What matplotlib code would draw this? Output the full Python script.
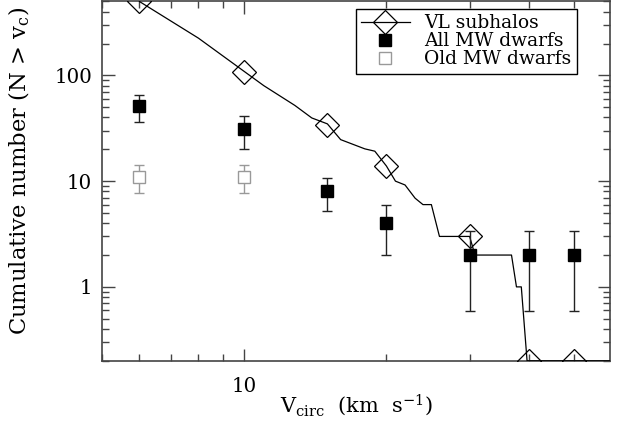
import matplotlib
matplotlib.use("Agg")
import matplotlib.pyplot as plt
from matplotlib.ticker import LogLocator, NullFormatter, FixedLocator, FixedFormatter

plt.rcParams['font.family'] = ['DejaVu Serif']
plt.rcParams['mathtext.fontset'] = 'dejavuserif'

# VL subhalos cumulative curve (traced)
vl_curve_x = [6.0, 8.0, 10.0, 11.0, 12.8, 13.9, 15.0, 16.0, 18.0, 18.9, 20.0, 20.9, 21.9,
              23.0, 23.9, 24.9, 25.9, 30.0, 30.8, 36.8, 37.7, 38.6, 39.7, 60.0]
vl_curve_y = [500, 225, 109, 80, 52, 39.6, 34.8, 24.7, 20.2, 19.2, 13.9, 10, 9.2,
              6.9, 6.0, 6.0, 3.0, 3.0, 2.0, 2.0, 1.0, 1.0, 0.2, 0.2]
# VL subhalos markers
vl_x = [6, 10, 15, 20, 30, 40, 50]
vl_y = [500, 108, 34, 13.8, 3.0, 0.2, 0.2]

# All MW dwarfs
all_x = [6, 10, 15, 20, 30, 40, 50]
all_y = [51, 31, 8, 4, 2, 2, 2]
all_lo = [36, 20.3, 5.2, 2.0, 0.59, 0.59, 0.59]
all_hi = [65, 41, 10.7, 6.0, 3.4, 3.4, 3.4]

# Old MW dwarfs
old_x = [6, 10]
old_y = [11, 11]
old_lo = [7.7, 7.7]
old_hi = [14.3, 14.3]

fig = plt.figure(figsize=(6.26, 4.29), dpi=100)
ax = fig.add_axes([0.163, 0.159, 0.811, 0.839])

ax.set_xscale('log')
ax.set_yscale('log')
ax.set_xlim(5.0, 59.4)
ax.set_ylim(0.2, 507)

ax.plot(vl_curve_x, vl_curve_y, color='black', lw=0.9, zorder=3)
ax.plot(vl_x, vl_y, linestyle='none', marker='D', markersize=12, markerfacecolor='none',
        markeredgecolor='black', markeredgewidth=0.9, zorder=4)

all_err = [[y - l for y, l in zip(all_y, all_lo)], [h - y for y, h in zip(all_y, all_hi)]]
ax.errorbar(all_x, all_y, yerr=all_err, fmt='s', color='black', ecolor='#222222',
            markersize=8.5, elinewidth=1.0, capsize=3.3, capthick=1.0, zorder=5)

old_err = [[y - l for y, l in zip(old_y, old_lo)], [h - y for y, h in zip(old_y, old_hi)]]
ax.errorbar(old_x, old_y, yerr=old_err, fmt='s', markerfacecolor='white',
            markeredgecolor='#999999', ecolor='#999999', markersize=8.5, markeredgewidth=1.0,
            elinewidth=1.0, capsize=3.3, capthick=1.0, zorder=5)

# legend handles
h1, = ax.plot([], [], color='black', lw=0.9, marker='D', markersize=12,
              markerfacecolor='none', markeredgecolor='black', markeredgewidth=0.9)
h2, = ax.plot([], [], linestyle='none', marker='s', markersize=8.5, color='black')
h3, = ax.plot([], [], linestyle='none', marker='s', markersize=8.5,
              markerfacecolor='white', markeredgecolor='#999999')
leg = ax.legend([h1, h2, h3], ['VL subhalos', 'All MW dwarfs', 'Old MW dwarfs'],
                loc='upper right', bbox_to_anchor=(0.935, 0.977), fontsize=13.4,
                frameon=True, fancybox=False, framealpha=1, edgecolor='black',
                handlelength=2.6, handletextpad=0.79, labelspacing=0.0,
                borderpad=0.28, borderaxespad=0)
leg.get_frame().set_linewidth(1.0)

for s in ax.spines.values():
    s.set_color('#444444')
    s.set_linewidth(1.2)

ax.tick_params(which='both', direction='in', top=True, right=True, colors='#444444',
               labelcolor='black', labelsize=14.3)
ax.tick_params(which='major', length=9, width=1.0)
ax.tick_params(which='minor', length=5, width=1.0)
ax.xaxis.set_major_locator(FixedLocator([10]))
ax.xaxis.set_major_formatter(FixedFormatter(['10']))
ax.xaxis.set_minor_locator(LogLocator(base=10, subs=range(2, 10)))
ax.xaxis.set_minor_formatter(NullFormatter())
ax.yaxis.set_major_locator(FixedLocator([1, 10, 100]))
ax.yaxis.set_major_formatter(FixedFormatter(['1', '10', '100']))
ax.yaxis.set_minor_locator(LogLocator(base=10, subs=range(2, 10)))
ax.yaxis.set_minor_formatter(NullFormatter())
ax.tick_params(axis='x', pad=12)
ax.tick_params(axis='y', pad=7)

ax.set_xlabel(r'V$_{\rm circ}$  (km  s$^{-1}$)', fontsize=15, labelpad=-3)
ax.set_ylabel(r'Cumulative number (N > v$_{\rm c}$)', fontsize=16.3)
ax.yaxis.set_label_coords(-0.138, 0.527)

fig.savefig('out.png', dpi=100)
